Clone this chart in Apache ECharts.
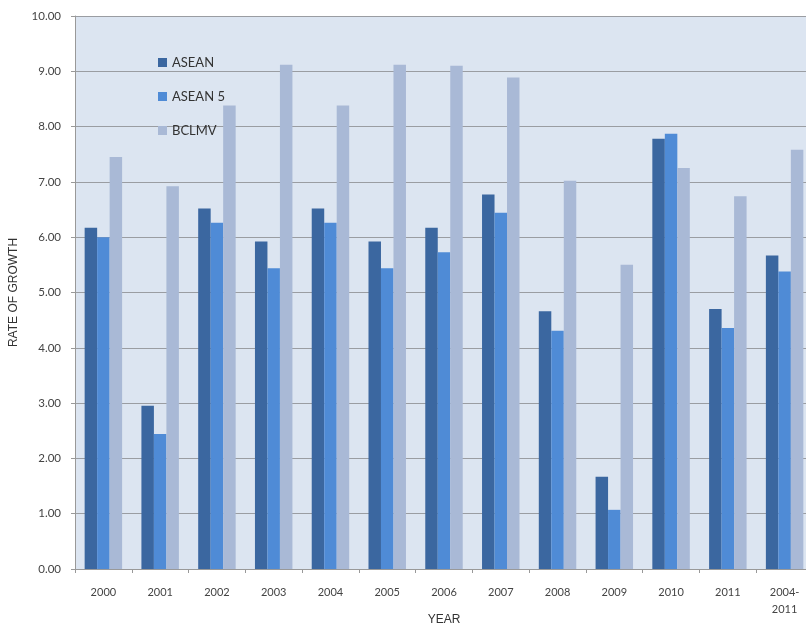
<!DOCTYPE html>
<html>
<head>
<meta charset="utf-8">
<script src="https://cdn.jsdelivr.net/npm/echarts@6/dist/echarts.min.js"></script>
<style>
html,body{margin:0;padding:0;background:#fff;}
#c{width:806px;height:627px;}
</style>
</head>
<body>
<div id="c"></div>
<script>
const categories = ['2000','2001','2002','2003','2004','2005','2006','2007','2008','2009','2010','2011','2004-\n2011'];
const asean  = [6.17, 2.95, 6.52, 5.92, 6.52, 5.92, 6.17, 6.77, 4.66, 1.67, 7.78, 4.70, 5.67];
const asean5 = [6.00, 2.44, 6.26, 5.44, 6.26, 5.44, 5.73, 6.44, 4.31, 1.07, 7.87, 4.36, 5.38];
const bclmv  = [7.45, 6.92, 8.38, 9.12, 8.38, 9.12, 9.10, 8.89, 7.02, 5.50, 7.25, 6.74, 7.58];
const seriesNames = ['ASEAN', 'ASEAN 5', 'BCLMV'];

const chart = echarts.init(document.getElementById('c'));
const font = 'Lato, "Open Sans", sans-serif';
chart.setOption({
  animation: false,
  textStyle: {fontFamily: font},
  color: ['#3b67a0', '#4f8bd6', '#a9b9d6'],
  grid: {left: 75, top: 16, bottom: 58, right: -7, outerBoundsMode: 'none', containLabel: false,
         show: true, backgroundColor: '#dce5f1', borderWidth: 0},
  legend: {
    orient: 'vertical', left: 153, top: 51, itemWidth: 9, itemHeight: 9, itemGap: 21,
    icon: 'rect',
    textStyle: {fontSize: 13, color: '#333', fontFamily: font},
    data: seriesNames
  },
  xAxis: {
    type: 'category', data: categories,
    name: 'YEAR', nameLocation: 'middle', nameGap: 45, nameMoveOverlap: false,
    nameTextStyle: {fontSize: 12, color: '#333', fontFamily: 'Liberation Sans, Arial, sans-serif'},
    axisLine: {lineStyle: {color: '#999'}},
    axisTick: {show: true, length: 4, lineStyle: {color: '#999'}},
    axisLabel: {fontSize: 11, color: '#444', margin: 15, lineHeight: 17, interval: 0,
                verticalAlign: 'top', formatter: v => v.indexOf('\n') >= 0 ? v : v + '\n '}
  },
  yAxis: {
    type: 'value', min: 0, max: 10, interval: 1,
    name: 'RATE OF GROWTH', nameLocation: 'middle', nameGap: 55, nameMoveOverlap: false,
    nameTextStyle: {fontSize: 12, color: '#333', fontFamily: 'Liberation Sans, Arial, sans-serif'},
    axisLine: {show: true, lineStyle: {color: '#999'}},
    axisTick: {show: true, length: 4, lineStyle: {color: '#999'}},
    axisLabel: {fontSize: 11.5, color: '#444', margin: 14, formatter: v => v.toFixed(2)},
    splitLine: {lineStyle: {color: '#9a9da2', width: 1}}
  },
  series: [
    {name: seriesNames[0], type: 'bar', data: asean, barGap: '0%', barCategoryGap: '34%'},
    {name: seriesNames[1], type: 'bar', data: asean5, barGap: '0%', barCategoryGap: '34%'},
    {name: seriesNames[2], type: 'bar', data: bclmv, barGap: '0%', barCategoryGap: '34%'}
  ]
});
</script>
</body>
</html>
